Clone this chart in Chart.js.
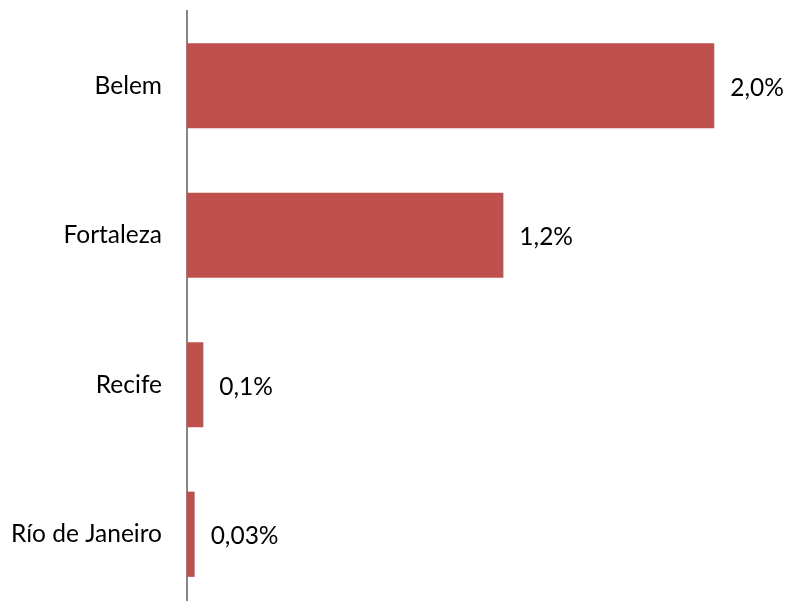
<!DOCTYPE html>
<html>
<head>
<meta charset="utf-8">
<script src="https://cdn.jsdelivr.net/npm/chart.js@4/dist/chart.umd.min.js"></script>
<style>
html,body{margin:0;padding:0;background:#fff;overflow:hidden;}
#wrap{width:786px;height:609px;position:relative;}
</style>
</head>
<body>
<div id="wrap"><canvas id="c" width="786" height="609"></canvas></div>
<script>
const categories = ["Belem", "Fortaleza", "Recife", "Río de Janeiro"];
const values = [2.0, 1.2, 0.062, 0.029];
const valueLabels = ["2,0%", "1,2%", "0,1%", "0,03%"];

const FONT = "Lato, 'DejaVu Sans', sans-serif";
const FONT_SIZE = 24.5;

const valueLabelPlugin = {
  id: 'valueLabels',
  afterDatasetsDraw(chart) {
    const ctx = chart.ctx;
    const meta = chart.getDatasetMeta(0);
    ctx.save();
    ctx.fillStyle = '#000';
    ctx.font = FONT_SIZE + 'px ' + FONT;
    ctx.textAlign = 'left';
    ctx.textBaseline = 'middle';
    meta.data.forEach((bar, i) => {
      ctx.fillText(valueLabels[i], bar.x + 16, bar.y + 2);
    });
    ctx.restore();
  }
};

new Chart(document.getElementById('c'), {
  type: 'bar',
  data: {
    labels: categories,
    datasets: [{
      data: values,
      backgroundColor: '#C0504D',
      borderWidth: 0,
      categoryPercentage: 1.0,
      barPercentage: 0.57
    }]
  },
  options: {
    indexAxis: 'y',
    responsive: false,
    animation: false,
    layout: { padding: { top: 11, right: 19, bottom: 0, left: 0 } },
    plugins: { legend: { display: false }, tooltip: { enabled: false } },
    scales: {
      x: {
        display: false,
        min: 0,
        max: 2.2
      },
      y: {
        afterFit(scale) { scale.width = 187; scale.paddingTop = 0; scale.paddingBottom = 0; },
        grid: { display: false, drawTicks: false },
        border: { display: true, color: '#868686', width: 2 },
        ticks: {
          color: '#000',
          padding: 25,
          font: { family: FONT, size: FONT_SIZE }
        }
      }
    }
  },
  plugins: [valueLabelPlugin]
});
</script>
</body>
</html>
